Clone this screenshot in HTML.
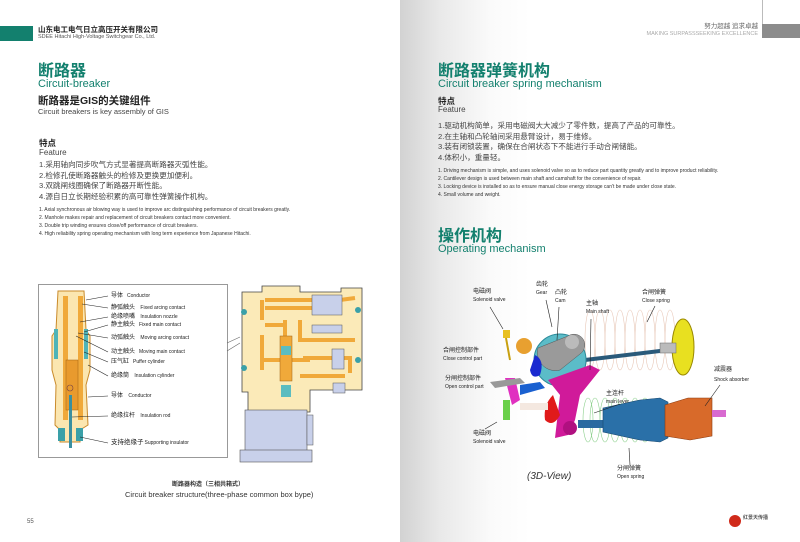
<!DOCTYPE html>
<html><head><meta charset="utf-8"><style>
*{margin:0;padding:0;box-sizing:border-box}
body{width:800px;height:542px;position:relative;overflow:hidden;background:#fff;font-family:"Liberation Sans","Noto Sans CJK SC",sans-serif;color:#333}
.t{position:absolute;white-space:nowrap;line-height:1}
.teal{color:#13806e}
.h1{font-size:16px;font-weight:bold}
.h2{font-size:11px}
.cn{font-size:7.6px;color:#444}
.en{font-size:5px;color:#333}
.lab{font-size:5px;color:#222}
.lab b{font-size:6px;font-weight:normal;margin-right:4px}
</style></head><body>
<div style="position:absolute;left:400px;top:0;width:400px;height:542px;background:linear-gradient(90deg,#d2d2d2 0px,#e9e9e9 40px,#fafafa 90px,#fff 130px)"></div>
<div style="position:absolute;left:0;top:26px;width:33px;height:15px;background:#13806e"></div>
<div style="position:absolute;left:762px;top:24px;width:38px;height:14px;background:#8c8c8c"></div>
<div style="position:absolute;left:762px;top:0;width:1px;height:24px;background:#bbb"></div>

<div class="t" style="left:38px;top:26px;font-size:7.5px;font-weight:bold;color:#222">山东电工电气日立高压开关有限公司</div>
<div class="t" style="left:38px;top:35px;font-size:5.5px;color:#555">SDEE Hitachi High-Voltage Switchgear Co., Ltd.</div>
<div class="t" style="right:42px;top:24px;font-size:6.5px;color:#666">努力超越 追求卓越</div>
<div class="t" style="right:42px;top:32px;font-size:5.5px;color:#aaa">MAKING SURPASSSEEKING EXCELLENCE</div>

<div class="t teal h1" style="left:38px;top:64px">断路器</div>
<div class="t teal h2" style="left:38px;top:79px">Circuit-breaker</div>
<div class="t" style="left:38px;top:96px;font-size:10.5px;font-weight:bold;color:#222">断路器是GIS的关键组件</div>
<div class="t" style="left:38px;top:108px;font-size:7.5px;color:#444">Circuit breakers is key assembly of GIS</div>
<div class="t" style="left:39px;top:139px;font-size:8.5px;font-weight:bold;color:#222">特点</div>
<div class="t" style="left:39px;top:149px;font-size:8px;color:#444">Feature</div>
<div class="t cn" style="left:39px;top:161px">1.采用轴向同步吹气方式显著提高断路器灭弧性能。</div>
<div class="t cn" style="left:39px;top:172px">2.检修孔使断路器触头的检修及更换更加便利。</div>
<div class="t cn" style="left:39px;top:182px">3.双跳闸线圈确保了断路器开断性能。</div>
<div class="t cn" style="left:39px;top:193px">4.源自日立长期经验积累的高可靠性弹簧操作机构。</div>
<div class="t en" style="left:39px;top:208px">1. Axial synchronous air blowing way is used to improve arc distinguishing performance of circuit breakers greatly.</div>
<div class="t en" style="left:39px;top:216px">2. Manhole makes repair and replacement of circuit breakers contact more convenient.</div>
<div class="t en" style="left:39px;top:224px">3. Double trip winding ensures close/off performance of circuit breakers.</div>
<div class="t en" style="left:39px;top:232px">4. High reliability spring operating mechanism with long term experience from Japanese Hitachi.</div>

<div class="t teal h1" style="left:438px;top:64px">断路器弹簧机构</div>
<div class="t teal h2" style="left:438px;top:79px">Circuit breaker spring mechanism</div>
<div class="t" style="left:438px;top:97px;font-size:8.5px;font-weight:bold;color:#222">特点</div>
<div class="t" style="left:438px;top:106px;font-size:8px;color:#444">Feature</div>
<div class="t cn" style="left:438px;top:122px">1.驱动机构简单，采用电磁阀大大减少了零件数，提高了产品的可靠性。</div>
<div class="t cn" style="left:438px;top:133px">2.在主轴和凸轮轴间采用悬臂设计，易于维修。</div>
<div class="t cn" style="left:438px;top:143px">3.装有闭锁装置，确保在合闸状态下不能进行手动合闸储能。</div>
<div class="t cn" style="left:438px;top:154px">4.体积小，重量轻。</div>
<div class="t en" style="left:438px;top:169px">1. Driving mechanism is simple, and uses solenoid valve so as to reduce part quantity greatly and to improve product reliability.</div>
<div class="t en" style="left:438px;top:177px">2. Cantilever design is used between main shaft and camshaft for the convenience of repair.</div>
<div class="t en" style="left:438px;top:185px">3. Locking device is installed so as to ensure manual close energy storage can't be made under close state.</div>
<div class="t en" style="left:438px;top:193px">4. Small volume and weight.</div>
<div class="t teal h1" style="left:438px;top:229px">操作机构</div>
<div class="t teal h2" style="left:438px;top:244px">Operating mechanism</div>

<svg style="position:absolute;left:0;top:0" width="800" height="542">
<rect x="38.5" y="284.5" width="189" height="173" fill="#fff" stroke="#999"/>
<line x1="227" y1="343" x2="240" y2="337" stroke="#666" stroke-width=".6"/>
<line x1="227" y1="351" x2="240" y2="343" stroke="#666" stroke-width=".6"/>
<path d="M58 291 L84 291 L86 330 L90 336 L90 370 L86 385 L88 425 L80 430 L80 442 L60 442 L60 430 L55 425 L56 385 L52 370 L52 336 L56 330 Z" fill="#fbe6b0" stroke="#c98a2a" stroke-width="1"/>
<path d="M63 296 L68 296 L68 420 L63 420 Z M78 296 L83 296 L83 420 L78 420 Z" fill="#f0a93a"/>
<rect x="66" y="360" width="12" height="50" fill="#e89a2e" stroke="#a06010" stroke-width=".5"/>
<rect x="54" y="329" width="4" height="30" fill="#4fb4b8"/><rect x="84" y="329" width="4" height="30" fill="#4fb4b8"/>
<rect x="58" y="428" width="7" height="13" fill="#3aa0a8"/><rect x="76" y="428" width="7" height="13" fill="#3aa0a8"/>
<rect x="69" y="395" width="3" height="53" fill="#3a8fa0"/>
<circle cx="70" cy="388" r="3" fill="none" stroke="#744" stroke-width=".6"/>
<g stroke="#222" stroke-width=".6" fill="none">
<line x1="108" y1="296" x2="86" y2="300"/><line x1="108" y1="308" x2="82" y2="304"/><line x1="108" y1="317" x2="80" y2="322"/><line x1="108" y1="325" x2="84" y2="332"/><line x1="108" y1="338" x2="78" y2="333"/><line x1="108" y1="352" x2="76" y2="336"/><line x1="108" y1="362" x2="84" y2="352"/><line x1="108" y1="376" x2="88" y2="365"/><line x1="108" y1="396" x2="88" y2="397"/><line x1="108" y1="416" x2="72" y2="417"/><line x1="108" y1="443" x2="80" y2="437"/>
</g>
<path d="M242 292 L262 292 L262 286 L300 286 L300 292 L341 292 L341 288 L362 288 L362 390 L310 390 L310 412 L248 412 L248 392 L242 392 Z" fill="#fbeab8" stroke="#444" stroke-width=".8"/>
<g stroke="#f0a93a" stroke-width="4" fill="none">
<path d="M262 300 L262 320 M265 300 L340 300 L355 298 M265 308 L320 308"/>
<path d="M262 335 L262 370 M262 360 L310 360 M265 325 L285 325"/>
<path d="M300 320 L300 340 L355 340 M303 358 L350 358 L350 373 M300 376 L345 376"/>
<path d="M285 320 L285 380"/>
</g>
<rect x="280" y="336" width="12" height="45" fill="#f0a93a" stroke="#a06010" stroke-width=".5"/>
<rect x="281" y="346" width="10" height="9" fill="#5bbcc0"/>
<rect x="281" y="385" width="10" height="12" fill="#5bbcc0"/>
<rect x="312" y="295" width="30" height="20" fill="#c8d0ea" stroke="#555" stroke-width=".5"/>
<rect x="312" y="325" width="30" height="8" fill="#c8d0ea" stroke="#555" stroke-width=".5"/>
<rect x="332" y="349" width="12" height="20" fill="#c8d0ea" stroke="#555" stroke-width=".5"/>
<rect x="333" y="383" width="12" height="10" fill="#c8d0ea" stroke="#555" stroke-width=".5"/>
<rect x="245" y="410" width="62" height="42" fill="#c8d0ea" stroke="#555" stroke-width=".6"/>
<rect x="240" y="450" width="72" height="12" fill="#c8d0ea" stroke="#555" stroke-width=".6"/>
<rect x="307" y="415" width="6" height="30" fill="#c8d0ea" stroke="#555" stroke-width=".5"/>
<g fill="#3aa0a8"><circle cx="244" cy="312" r="3"/><circle cx="244" cy="368" r="3"/><circle cx="358" cy="310" r="3"/><circle cx="358" cy="360" r="3"/></g>
</svg>
<div class="t lab" style="left:111px;top:293px"><b>导体</b>Conductor</div>
<div class="t lab" style="left:111px;top:305px"><b>静弧触头</b>&nbsp;Fixed arcing contact</div>
<div class="t lab" style="left:111px;top:314px"><b>绝缘喷嘴</b>&nbsp;Insulation nozzle</div>
<div class="t lab" style="left:111px;top:322px"><b>静主触头</b>Fixed main contact</div>
<div class="t lab" style="left:111px;top:335px"><b>动弧触头</b>&nbsp;Moving arcing contact</div>
<div class="t lab" style="left:111px;top:349px"><b>动主触头</b>Moving main contact</div>
<div class="t lab" style="left:111px;top:359px"><b>压气缸</b>Puffer cylinder</div>
<div class="t lab" style="left:111px;top:373px"><b>绝缘筒</b>&nbsp;Insulation cylinder</div>
<div class="t lab" style="left:111px;top:393px"><b>导体</b>&nbsp;Conductor</div>
<div class="t lab" style="left:111px;top:413px"><b>绝缘拉杆</b>&nbsp;Insulation rod</div>
<div class="t lab" style="left:111px;top:440px"><b style="font-size:6.5px;margin-right:1px">支持绝缘子</b>Supporting insulator</div>
<div class="t" style="left:172px;top:482px;font-size:6px;font-weight:bold;color:#333">断路器构造（三相共箱式）</div>
<div class="t" style="left:125px;top:491px;font-size:7.5px;color:#333">Circuit breaker structure(three-phase common box bype)</div>
<div class="t" style="left:27px;top:519px;font-size:6px;color:#555">55</div>

<svg style="position:absolute;left:0;top:0" width="800" height="542">
<g fill="none" stroke="#e8c8b8" stroke-width=".6">
<ellipse cx="600" cy="340" rx="5" ry="30"/><ellipse cx="610" cy="340" rx="5" ry="30"/><ellipse cx="620" cy="340" rx="5" ry="30"/><ellipse cx="630" cy="340" rx="5" ry="30"/><ellipse cx="640" cy="340" rx="5" ry="30"/><ellipse cx="650" cy="340" rx="5" ry="30"/><ellipse cx="660" cy="340" rx="5" ry="30"/><ellipse cx="670" cy="340" rx="5" ry="30"/><ellipse cx="590" cy="340" rx="5" ry="30"/>
</g>
<g fill="none" stroke="#8cd08c" stroke-width=".6">
<ellipse cx="595" cy="420" rx="5" ry="22"/><ellipse cx="605" cy="420" rx="5" ry="22"/><ellipse cx="615" cy="420" rx="5" ry="22"/><ellipse cx="625" cy="420" rx="5" ry="22"/><ellipse cx="635" cy="420" rx="5" ry="22"/><ellipse cx="645" cy="420" rx="5" ry="22"/><ellipse cx="588" cy="420" rx="5" ry="22"/>
</g>
<line x1="585" y1="360" x2="668" y2="350" stroke="#2a5a7a" stroke-width="4"/>
<circle cx="560" cy="360" r="26" fill="#5bbcc8" stroke="#2a8a9a"/>
<path d="M538 348 L568 336 A10 10 0 0 1 580 354 L560 370 A18 18 0 0 1 538 348Z" fill="#9a9a9a" stroke="#555" stroke-width=".5"/>
<circle cx="572" cy="342" r="7" fill="#bbb"/>
<ellipse cx="683" cy="347" rx="11" ry="28" fill="#e8e020" stroke="#998800"/>
<rect x="660" y="343" width="16" height="10" fill="#bbb" stroke="#666" stroke-width=".5"/>
<circle cx="524" cy="346" r="8" fill="#e8a030"/>
<path d="M535 355 q10 5 5 20 q-8 5 -10 -5z" fill="#1a2ad0"/>
<rect x="503" y="330" width="7" height="8" fill="#e8c020"/>
<line x1="506" y1="338" x2="510" y2="360" stroke="#c8a010" stroke-width="2"/>
<path d="M548 380 L590 365 L600 370 L580 395 L575 420 L568 435 L555 438 L560 395 Z" fill="#d01a9a"/>
<circle cx="570" cy="428" r="7" fill="#b01080"/>
<path d="M553 395 q-10 10 -8 25 q8 8 15 -5z" fill="#e01a1a"/>
<path d="M505 378 L515 378 L520 400 L512 405 Z" fill="#e030c0"/>
<rect x="503" y="400" width="7" height="20" fill="#6ad04a"/>
<path d="M520 385 L540 382 L545 388 L520 395z" fill="#1a60d0"/>
<path d="M490 382 L520 378 L525 383 L495 388z" fill="#999"/>
<rect x="520" y="403" width="28" height="7" fill="#f4e8e0"/>
<rect x="578" y="420" width="25" height="8" fill="#2a6aa0"/>
<path d="M603 408 L640 400 L660 398 L668 402 L668 438 L660 442 L640 440 L603 432 Z" fill="#2a70a8" stroke="#1a4a70" stroke-width=".6"/>
<path d="M665 405 L688 398 L712 398 L712 436 L690 440 L665 436Z" fill="#d86a2a" stroke="#8a3a10" stroke-width=".6"/>
<rect x="712" y="410" width="14" height="7" fill="#d86ad0"/>
<g stroke="#222" stroke-width=".6">
<line x1="490" y1="307" x2="503" y2="329"/><line x1="546" y1="300" x2="552" y2="327"/><line x1="559" y1="307" x2="557" y2="340"/><line x1="591" y1="319" x2="590" y2="370"/><line x1="655" y1="306" x2="647" y2="322"/><line x1="720" y1="385" x2="705" y2="406"/><line x1="620" y1="404" x2="594" y2="413"/><line x1="630" y1="465" x2="629" y2="448"/><line x1="485" y1="429" x2="497" y2="422"/>
</g>
<circle cx="735" cy="521" r="6" fill="#d02a1a"/>
</svg>
<div class="t lab" style="left:473px;top:289px"><b>电磁阀</b></div><div class="t lab" style="left:473px;top:298px">Solenoid valve</div>
<div class="t lab" style="left:536px;top:282px"><b>齿轮</b></div><div class="t lab" style="left:536px;top:291px">Gear</div>
<div class="t lab" style="left:555px;top:290px"><b>凸轮</b></div><div class="t lab" style="left:555px;top:299px">Cam</div>
<div class="t lab" style="left:586px;top:301px"><b>主轴</b></div><div class="t lab" style="left:586px;top:310px">Main shaft</div>
<div class="t lab" style="left:642px;top:290px"><b>合闸弹簧</b></div><div class="t lab" style="left:642px;top:299px">Close spring</div>
<div class="t lab" style="left:443px;top:348px"><b>合闸控制部件</b></div><div class="t lab" style="left:443px;top:357px">Close control part</div>
<div class="t lab" style="left:445px;top:376px"><b>分闸控制部件</b></div><div class="t lab" style="left:445px;top:385px">Open control part</div>
<div class="t lab" style="left:606px;top:391px"><b>主连杆</b></div><div class="t lab" style="left:606px;top:400px">main lever</div>
<div class="t lab" style="left:714px;top:367px"><b>减震器</b></div><div class="t lab" style="left:714px;top:378px">Shock absorber</div>
<div class="t lab" style="left:473px;top:431px"><b>电磁阀</b></div><div class="t lab" style="left:473px;top:440px">Solenoid valve</div>
<div class="t lab" style="left:617px;top:466px"><b>分闸弹簧</b></div><div class="t lab" style="left:617px;top:475px">Open spring</div>
<div class="t" style="left:527px;top:472px;font-size:10px;font-style:italic;color:#333">(3D-View)</div>
<div class="t" style="left:743px;top:516px;font-size:5px;font-weight:bold;color:#555">红景天传播</div>
</body></html>
